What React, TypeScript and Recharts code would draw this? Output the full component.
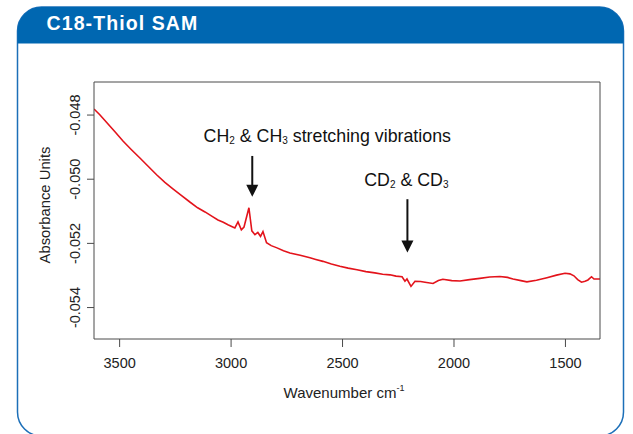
import { Line, LineChart, ReferenceLine, XAxis, YAxis, Label } from "recharts";

// IR spectrum (wavenumber in cm-1, absorbance units)
const wavenumbers = [
  3615, 3589, 3557, 3520, 3485, 3447, 3409, 3370, 3333, 3297, 3261, 3222,
  3185, 3150, 3117, 3085, 3059, 3035, 3014, 2995, 2983, 2969, 2954, 2942,
  2920, 2907, 2893, 2880, 2868, 2857, 2841, 2820, 2794, 2765, 2736, 2690,
  2646, 2620, 2588, 2550, 2512, 2475, 2435, 2395, 2355, 2320, 2287, 2260,
  2233, 2220, 2211, 2193, 2175, 2150, 2130, 2094, 2070, 2050, 2010, 1973,
  1930, 1884, 1840, 1794, 1760, 1735, 1700, 1673, 1630, 1583, 1540, 1502,
  1480, 1462, 1445, 1428, 1412, 1399, 1383, 1372, 1345,
];

const absorbance = [
  -0.04781, -0.04799, -0.04824, -0.04853, -0.04881, -0.04908, -0.04934,
  -0.04961, -0.04987, -0.05010, -0.0503, -0.05051, -0.05071, -0.05089,
  -0.05102, -0.05116, -0.05127, -0.05134, -0.05142, -0.05148, -0.05152,
  -0.05133, -0.05158, -0.05149, -0.05089, -0.05161, -0.05173, -0.05166,
  -0.05178, -0.05163, -0.05198, -0.05207, -0.05214, -0.05223, -0.0523,
  -0.05237, -0.05245, -0.0525, -0.05256, -0.05264, -0.05271, -0.05277,
  -0.05282, -0.05288, -0.05292, -0.05296, -0.05298, -0.05302, -0.05304,
  -0.05318, -0.05311, -0.05334, -0.05318, -0.05319, -0.05321, -0.05325,
  -0.05316, -0.05312, -0.05316, -0.05317, -0.05313, -0.05309, -0.05305,
  -0.05303, -0.05306, -0.05311, -0.05316, -0.0532, -0.05315, -0.05307,
  -0.05299, -0.05293, -0.05295, -0.05301, -0.05313, -0.05321, -0.05318,
  -0.05314, -0.05304, -0.05311, -0.05311,
];

const xTicks = [3500, 3000, 2500, 2000, 1500];
const yTicks = [-0.048, -0.05, -0.052, -0.054];

// arrow annotations: wavenumber, absorbance at arrow top and tip
const chArrow = { wn: 2905, top: -0.049275, tip: -0.05055 };
const cdArrow = { wn: 2209, top: -0.050623, tip: -0.052286 };

const data = wavenumbers.map((wn, i) => ({ wn, abs: absorbance[i] }));

const FONT = "'Liberation Sans', Arial, Helvetica, sans-serif";
const BLUE = "#0067b1";
const AXIS = "#4a4a4a";

function XTick({ x, y, payload }: any) {
  return (
    <text x={x} y={y + 20.5} textAnchor="middle" fontSize={14.5} fill="#222" fontFamily={FONT}>
      {payload.value}
    </text>
  );
}

function YTick({ x, y, payload }: any) {
  return (
    <text
      x={x - 7}
      y={y}
      transform={`rotate(-90, ${x - 7}, ${y})`}
      textAnchor="middle"
      fontSize={14.5}
      fill="#222"
      fontFamily={FONT}
    >
      {Number(payload.value).toFixed(3)}
    </text>
  );
}

function arrowShape(kind: "ch" | "cd") {
  return (props: any) => {
    const { x1, y1, y2 } = props;
    const x = x1;
    const head = 12;
    return (
      <g fontFamily={FONT} fill="#111">
        <line x1={x} y1={y1} x2={x} y2={y2 - head + 1} stroke="#111" strokeWidth={2} />
        <polygon points={`${x - 6},${y2 - head} ${x + 6},${y2 - head} ${x},${y2}`} fill="#111" />
        {kind === "ch" ? (
          <text x={x + 75} y={y1 - 14.3} textAnchor="middle" fontSize={17.8}>
            CH<tspan fontSize={10} dy={2}>2</tspan>
            <tspan dy={-2}> &amp; CH</tspan>
            <tspan fontSize={10} dy={2}>3</tspan>
            <tspan dy={-2}> stretching vibrations</tspan>
          </text>
        ) : (
          <text x={x - 1} y={y1 - 13} textAnchor="middle" fontSize={17.8}>
            CD<tspan fontSize={10} dy={2}>2</tspan>
            <tspan dy={-2}> &amp; CD</tspan>
            <tspan fontSize={10} dy={2}>3</tspan>
          </text>
        )}
      </g>
    );
  };
}

export default function App() {
  return (
    <div
      style={{
        position: "absolute",
        left: 0,
        top: 0,
        width: 633,
        height: 434,
        background: "#fff",
        overflow: "hidden",
      }}
    >
      <svg width={633} height={434} style={{ position: "absolute", left: 0, top: 0 }}>
        <rect x={17.5} y={7} width={606} height={429} rx={24} fill="#fff" stroke="#1c6fb8" strokeWidth={1.5} />
        <path
          d="M17.5,43.5 L17.5,31 A24,24 0 0 1 41.5,7 L599.5,7 A24,24 0 0 1 623.5,31 L623.5,43.5 Z"
          fill={BLUE}
        />
        <text x={46.5} y={30} fill="#fff" fontSize={19.5} fontWeight="bold" fontFamily={FONT} letterSpacing={1.1}>
          C18-Thiol SAM
        </text>
      </svg>

      <div style={{ position: "absolute", left: 0, top: 0 }}>
        <LineChart
          width={633}
          height={434}
          data={data}
          margin={{ top: 72, right: 23, bottom: 35, left: 34 }}
        >
          <XAxis
            dataKey="wn"
            type="number"
            domain={[1345, 3615]}
            reversed
            allowDataOverflow
            ticks={xTicks}
            height={60}
            tickSize={8}
            tickMargin={0}
            tick={<XTick />}
            tickLine={{ stroke: AXIS }}
            axisLine={{ stroke: AXIS }}
          >
            <Label
              content={() => (
                <text x={344} y={397.5} textAnchor="middle" fontSize={15} fill="#222" fontFamily={FONT}>
                  Wavenumber cm<tspan fontSize={9} dy={-7}>-1</tspan>
                </text>
              )}
            />
          </XAxis>
          <XAxis
            xAxisId="top"
            orientation="top"
            type="number"
            domain={[1345, 3615]}
            height={10}
            tick={false}
            tickLine={false}
            axisLine={{ stroke: AXIS }}
          />
          <YAxis
            type="number"
            domain={[-0.05498, -0.04697]}
            allowDataOverflow
            ticks={yTicks}
            width={60}
            tickSize={7}
            tickMargin={0}
            tick={<YTick />}
            tickLine={{ stroke: AXIS }}
            axisLine={{ stroke: AXIS }}
          >
            <Label
              content={() => (
                <text
                  x={50}
                  y={205}
                  transform="rotate(-90, 50, 205)"
                  textAnchor="middle"
                  fontSize={14.8}
                  fill="#222"
                  fontFamily={FONT}
                >
                  Absorbance Units
                </text>
              )}
            />
          </YAxis>
          <YAxis
            yAxisId="right"
            orientation="right"
            type="number"
            domain={[-0.05498, -0.04697]}
            width={10}
            tick={false}
            tickLine={false}
            axisLine={{ stroke: AXIS }}
          />
          <Line
            dataKey="abs"
            type="linear"
            stroke="#e3131b"
            strokeWidth={1.6}
            dot={false}
            isAnimationActive={false}
          />
          <ReferenceLine
            segment={[
              { x: chArrow.wn, y: chArrow.top },
              { x: chArrow.wn, y: chArrow.tip },
            ]}
            shape={arrowShape("ch")}
          />
          <ReferenceLine
            segment={[
              { x: cdArrow.wn, y: cdArrow.top },
              { x: cdArrow.wn, y: cdArrow.tip },
            ]}
            shape={arrowShape("cd")}
          />
        </LineChart>
      </div>
    </div>
  );
}
